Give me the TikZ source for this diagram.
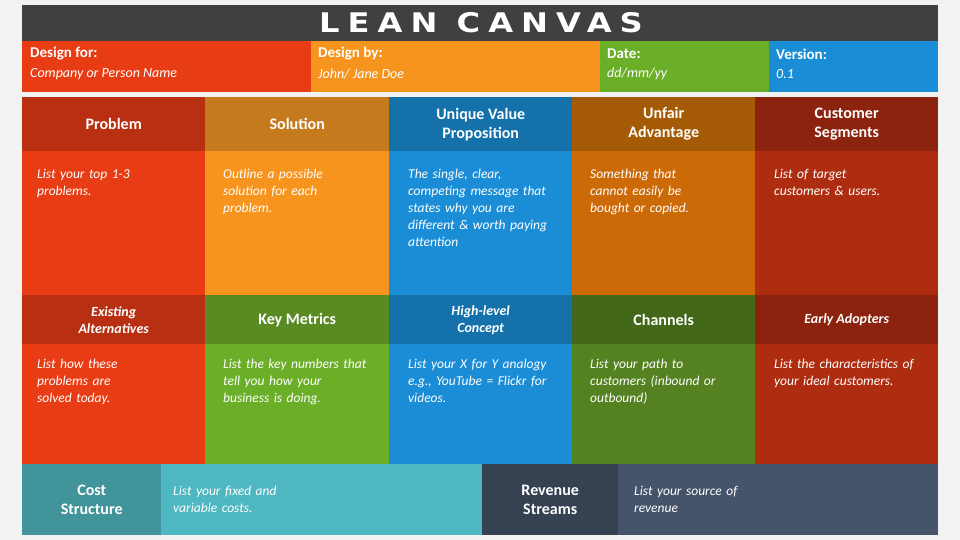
\documentclass[tikz,border=0pt]{standalone}
\usepackage{fontspec}
\setmainfont{Carlito}
\newfontfamily\titlefont[LetterSpace=25]{DejaVu Sans}
\usetikzlibrary{positioning}

\definecolor{titlebg}{HTML}{404040}
\definecolor{pagebg}{HTML}{F2F2F2}
\definecolor{redA}{HTML}{E83C15}
\definecolor{redH}{HTML}{B92F12}
\definecolor{orgA}{HTML}{F7941E}
\definecolor{orgH}{HTML}{C67A1E}
\definecolor{bluA}{HTML}{1A8DD6}
\definecolor{bluH}{HTML}{1471AA}
\definecolor{ambA}{HTML}{CC6A07}
\definecolor{ambH}{HTML}{A55A05}
\definecolor{brnA}{HTML}{AE2D11}
\definecolor{brnH}{HTML}{8C230E}
\definecolor{grnA}{HTML}{6BAE28}
\definecolor{grnH}{HTML}{5A8A22}
\definecolor{dgrA}{HTML}{548221}
\definecolor{dgrH}{HTML}{436819}
\definecolor{tealH}{HTML}{41949A}
\definecolor{tealA}{HTML}{4FB7C1}
\definecolor{slateH}{HTML}{364152}
\definecolor{slateA}{HTML}{45546A}

\tikzset{
  block/.style 2 args={anchor=north west, inner sep=0pt, fill=#1, minimum height=#2},
  hdr/.style={text=white, align=center, font=\bfseries\fontsize{16}{19}\selectfont},
  hdri/.style={text=white, align=center, font=\bfseries\itshape\fontsize{14}{17}\selectfont},
  txt/.style={anchor=north west, inner sep=0pt, text=white, align=left,
    text width=#1, font=\itshape\fontsize{13.5}{17}\selectfont},
  meta/.style={anchor=west, inner sep=0pt, text=white, font=\bfseries\fontsize{15}{18}\selectfont},
  metai/.style={anchor=west, inner sep=0pt, text=white, font=\itshape\fontsize{14}{16}\selectfont}
}

\begin{document}
\begin{tikzpicture}[x=1pt, y=-1pt]
	\fill[pagebg] (0,0) rectangle (960,540);
	\useasboundingbox (0,0) rectangle (960,540);
	% title bar
	\node[block={titlebg}{36pt}, minimum width=916pt] (bar) at (22,5) {};
	\node[text=white, inner sep=0pt] (title) at (481,23)
		{\scalebox{1.19}[1]{\titlefont\bfseries\fontsize{27}{27}\selectfont LEAN CANVAS}};
	% info row
	\node[block={redA}{51pt}, minimum width=289pt] (for) at (22,41) {};
	\node[block={orgA}{51pt}, minimum width=289pt] (by) at (311,41) {};
	\node[block={grnA}{51pt}, minimum width=169pt] (date) at (600,41) {};
	\node[block={bluA}{51pt}, minimum width=169pt] (ver) at (769,41) {};
	\node[meta] (forL) at (30,54) {Design for:};
	\node[metai] (forT) at (30,74) {Company or Person Name};
	\node[meta] (byL) at (318,54) {Design by:};
	\node[metai] (byT) at (318,74) {John/ Jane Doe};
	\node[meta] (dateL) at (607,54) {Date:};
	\node[metai] (dateT) at (607,74) {dd/mm/yy};
	\node[meta] (verL) at (776,54) {Version:};
	\node[metai] (verT) at (776,74) {0.1};

	% upper row of the canvas
	\foreach \x/\w/\ch/\cb/\n in {22/183/redH/redA/prob, 205/184/orgH/orgA/sol, 389/183/bluH/bluA/uvp,
		572/183/ambH/ambA/unf, 755/183/brnH/brnA/cust}{
		\node[block={\ch}{54pt}, minimum width=\w pt] (\n H) at (\x,97) {};
		\node[block={\cb}{144pt}, minimum width=\w pt] (\n B) at (\x,151) {};
	}
	% lower row of the canvas
	\foreach \x/\w/\ch/\cb/\n in {22/183/redH/redA/alt, 205/184/grnH/grnA/met, 389/183/bluH/bluA/hlc,
		572/183/dgrH/dgrA/chan, 755/183/brnH/brnA/early}{
		\node[block={\ch}{49pt}, minimum width=\w pt] (\n H) at (\x,295) {};
		\node[block={\cb}{120pt}, minimum width=\w pt] (\n B) at (\x,344) {};
	}
	% bottom strip
	\node[block={tealH}{71pt}, minimum width=139pt] (costH) at (22,464) {};
	\node[block={tealA}{71pt}, minimum width=321pt] (costB) at (161,464) {};
	\node[block={slateH}{71pt}, minimum width=136pt] (revH) at (482,464) {};
	\node[block={slateA}{71pt}, minimum width=320pt] (revB) at (618,464) {};

	% headings
	\node[hdr] at (probH) {Problem};
	\node[hdr] at (solH) {Solution};
	\node[hdr] at (uvpH) {Unique Value\\Proposition};
	\node[hdr] at (unfH) {Unfair\\Advantage};
	\node[hdr] at (custH) {Customer\\Segments};
	\node[hdri] at (altH) {Existing\\Alternatives};
	\node[hdr] at (metH) {Key Metrics};
	\node[hdri] at (hlcH) {High-level\\Concept};
	\node[hdr] at (chanH) {Channels};
	\node[hdri] at (earlyH) {Early Adopters};
	\node[hdr] at (costH) {Cost\\Structure};
	\node[hdr] at (revH) {Revenue\\Streams};

	% hints
	\node[txt=160pt] (probT) at (37,169) {List your top 1-3\\problems.};
	\node[txt=160pt] (solT) at (223,169) {Outline a possible\\solution for each\\problem.};
	\node[txt=160pt] (uvpT) at (408,169) {The single, clear,\\competing message that\\states why you are\\different \& worth paying\\attention};
	\node[txt=160pt] (unfT) at (590,169) {Something that\\cannot easily be\\bought or copied.};
	\node[txt=160pt] (custT) at (774,169) {List of target\\customers \& users.};
	\node[txt=160pt] (altT) at (37,359) {List how these\\problems are\\solved today.};
	\node[txt=160pt] (metT) at (223,359) {List the key numbers that\\tell you how your\\business is doing.};
	\node[txt=160pt] (hlcT) at (408,359) {List your X for Y analogy\\e.g., YouTube = Flickr for\\videos.};
	\node[txt=160pt] (chanT) at (590,359) {List your path to\\customers (inbound or\\outbound)};
	\node[txt=160pt] (earlyT) at (774,359) {List the characteristics of\\your ideal customers.};
	\node[txt=200pt] (costT) at (173,486) {List your fixed and\\variable costs.};
	\node[txt=200pt] (revT) at (634,486) {List your source of\\revenue};
\end{tikzpicture}
\end{document}
